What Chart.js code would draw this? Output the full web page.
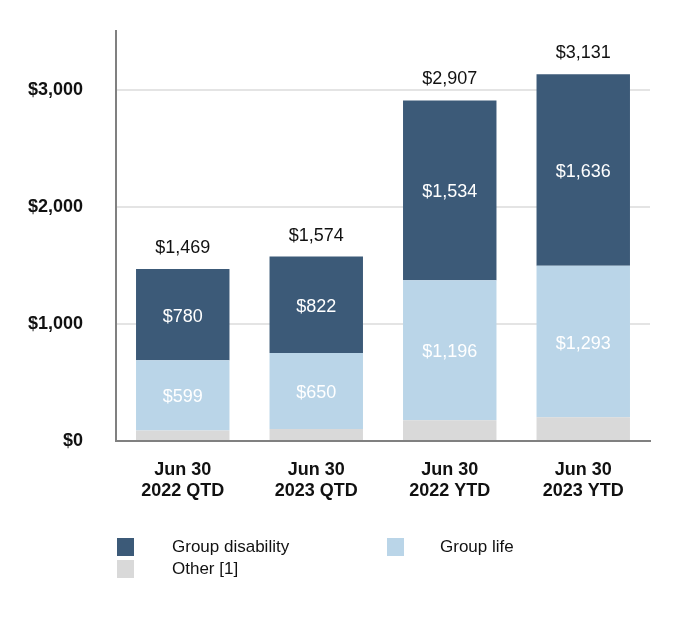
<!DOCTYPE html>
<html>
<head>
<meta charset="utf-8">
<script src="https://cdn.jsdelivr.net/npm/chart.js@4"></script>
<style>
  body { margin: 0; background: #fff; }
  #wrap { position: relative; width: 680px; height: 620px; font-family: "Liberation Sans", Arial, sans-serif; }
  .lg { position: absolute; font-size: 17px; color: #111; }
  .sw { position: absolute; width: 17px; height: 18px; }
</style>
</head>
<body>
<div id="wrap">
  <canvas id="chart" width="680" height="620"></canvas>
  <div class="sw" style="left:117px;top:538px;background:#3c5a78"></div>
  <div class="lg" style="left:172px;top:537px">Group disability</div>
  <div class="sw" style="left:387px;top:538px;background:#bad5e8"></div>
  <div class="lg" style="left:440px;top:537px">Group life</div>
  <div class="sw" style="left:117px;top:560px;background:#d9d9d9"></div>
  <div class="lg" style="left:172px;top:559px">Other [1]</div>
</div>
<script>
const categories = [['Jun 30', '2022 QTD'], ['Jun 30', '2023 QTD'], ['Jun 30', '2022 YTD'], ['Jun 30', '2023 YTD']];
const groupDisability = [780, 822, 1534, 1636];
const groupLife = [599, 650, 1196, 1293];
const other = [90, 102, 177, 202];
const totals = [1469, 1574, 2907, 3131];

const font = '"Liberation Sans", Arial, sans-serif';
const money = v => '$' + v.toLocaleString('en-US');

// value labels inside segments + totals on top
const labelPlugin = {
  id: 'labels',
  afterDatasetsDraw(chart) {
    const ctx = chart.ctx;
    ctx.save();
    ctx.font = '18px ' + font;
    ctx.textAlign = 'center';
    ctx.textBaseline = 'middle';
    chart.data.datasets.forEach((ds, i) => {
      if (!ds.showLabel) return;
      chart.getDatasetMeta(i).data.forEach((bar, j) => {
        ctx.fillStyle = ds.labelColor;
        ctx.fillText(money(ds.data[j]), bar.x, (bar.y + bar.base) / 2 + 2);
        if (ds.label === 'Group disability') {
          ctx.fillStyle = '#111';
          ctx.fillText(money(totals[j]), bar.x, bar.y - 21);
        }
      });
    });
    ctx.restore();
  }
};

new Chart(document.getElementById('chart'), {
  type: 'bar',
  data: {
    labels: categories,
    datasets: [
      { label: 'Other [1]', data: other, backgroundColor: '#d9d9d9', showLabel: false },
      { label: 'Group life', data: groupLife, backgroundColor: '#bad5e8', showLabel: true, labelColor: '#ffffff' },
      { label: 'Group disability', data: groupDisability, backgroundColor: '#3c5a78', showLabel: true, labelColor: '#ffffff' }
    ]
  },
  options: {
    responsive: false,
    animation: false,
    layout: { padding: { left: 0, right: 30, top: 31, bottom: 0 } },
    plugins: { legend: { display: false }, tooltip: { enabled: false } },
    datasets: { bar: { barPercentage: 0.7, categoryPercentage: 1 } },
    scales: {
      x: {
        stacked: true,
        grid: { display: false, drawTicks: false },
        border: { display: true, color: '#808080', width: 2 },
        ticks: { color: '#111', padding: 18, font: { family: font, size: 18, weight: 'bold' } },
        afterFit: s => { s.height = 179; }
      },
      y: {
        stacked: true,
        min: 0,
        max: 3500,
        grid: { color: '#e4e4e4', lineWidth: 2, drawTicks: false },
        border: { display: true, color: '#808080', width: 2 },
        ticks: {
          stepSize: 500, autoSkip: false, color: '#111', padding: 33,
          font: { family: font, size: 18, weight: 'bold' },
          callback: v => (v % 1000 === 0 ? money(v) : null)
        },
        afterFit: s => { s.width = 116; s.paddingTop = 0; }
      }
    }
  },
  plugins: [labelPlugin]
});
</script>
</body>
</html>
